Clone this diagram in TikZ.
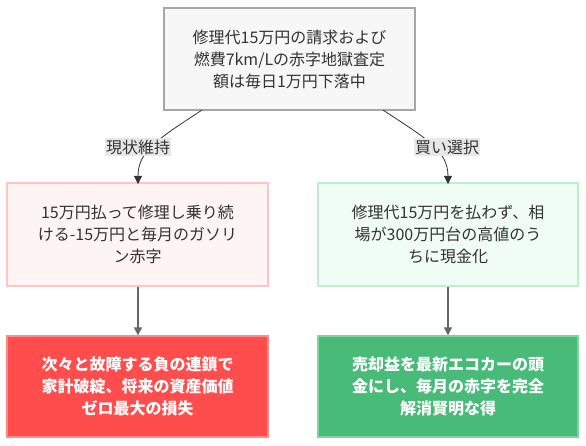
\documentclass[tikz,border=0pt]{standalone}
\usepackage{fontspec}
\setmainfont{Noto Sans CJK JP}
\usetikzlibrary{arrows.meta}
\definecolor{txt}{HTML}{333333}
\definecolor{topfill}{HTML}{F7F7F7}
\definecolor{topline}{HTML}{A6A6A6}
\definecolor{pinkfill}{HTML}{FFF4F4}
\definecolor{pinkline}{HTML}{FFC4C4}
\definecolor{mintfill}{HTML}{F0FDF4}
\definecolor{mintline}{HTML}{BDEFCF}
\definecolor{redfill}{HTML}{FF4C4C}
\definecolor{redline}{HTML}{FF8A8A}
\definecolor{greenfill}{HTML}{48BB78}
\definecolor{greenline}{HTML}{7FD3A1}
\definecolor{lblfill}{HTML}{E8E8E8}
\definecolor{edgecol}{HTML}{333333}
\tikzset{
  box/.style={rectangle, draw, line width=1.4pt, align=center, text=txt,
    font=\fontsize{16}{22}\selectfont, inner sep=0pt},
  lbl/.style={rectangle, fill=lblfill, text=txt, inner xsep=1pt, inner ysep=2pt,
    font=\fontsize{16}{20}\selectfont},
  edge/.style={draw=edgecol, line width=0.8pt, -{Triangle[length=8pt,width=8pt]}},
  vedge/.style={draw=edgecol!75, line width=1.4pt, -{Triangle[length=8pt,width=8pt]}}
}
\begin{document}
\begin{tikzpicture}[x=1pt,y=-1pt]
\useasboundingbox (0,0) rectangle (586,446);
\node[box, fill=topfill, draw=topline, minimum width=251pt, minimum height=102pt] (top) at (289.5,59)
  {修理代15万円の請求および\\燃費7km/Lの赤字地獄査定\\額は毎日1万円下落中};
\node[box, fill=pinkfill, draw=pinkline, minimum width=261pt, minimum height=103pt] (keep) at (137.5,234.5)
  {15万円払って修理し乗り続\\ける-15万円と毎月のガソリ\\ン赤字};
\node[box, fill=mintfill, draw=mintline, minimum width=260pt, minimum height=103pt] (buy) at (448,234.5)
  {修理代15万円を払わず、相\\場が300万円台の高値のう\\ちに現金化};
\node[box, fill=redfill, draw=redline, text=white, font=\fontsize{16}{22}\selectfont\bfseries, minimum width=261pt, minimum height=101pt] (bad) at (137.5,386.5)
  {次々と故障する負の連鎖で\\家計破綻、将来の資産価値\\ゼロ最大の損失};
\node[box, fill=greenfill, draw=greenline, text=white, font=\fontsize{16}{22}\selectfont\bfseries, minimum width=260pt, minimum height=101pt] (good) at (448,386.5)
  {売却益を最新エコカーの頭\\金にし、毎月の赤字を完全\\解消賢明な得};
\coordinate (s1) at (202,110);
\coordinate (e1) at (138,184);
\coordinate (s2) at (383,110);
\coordinate (e2) at (448,184);
\draw[edge] (s1) .. controls (160,138) and (138,150) .. (e1);
\draw[edge] (s2) .. controls (425,138) and (448,150) .. (e2);
\node[lbl] (l1) at (138,147) {現状維持};
\node[lbl] (l2) at (447,147) {買い選択};
\draw[vedge] (keep.south -| e1) -- (bad.north -| e1);
\draw[vedge] (buy.south) -- (good.north);
\end{tikzpicture}
\end{document}
